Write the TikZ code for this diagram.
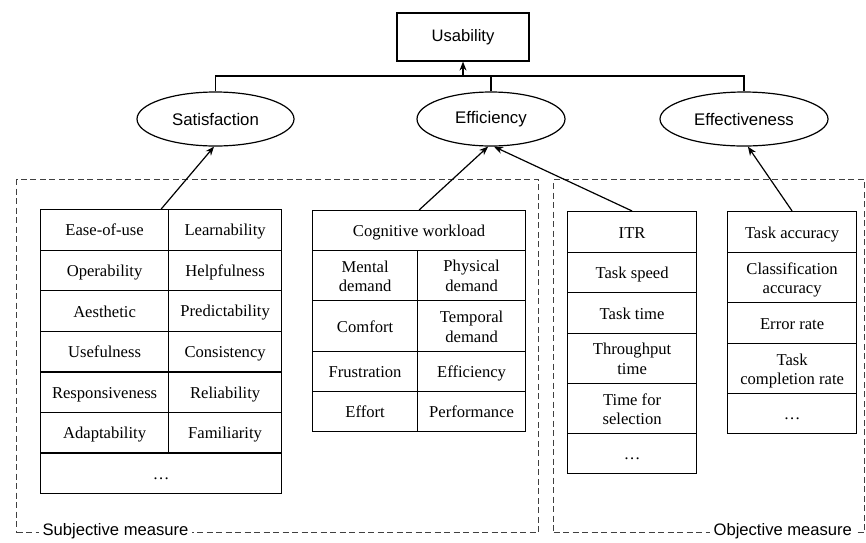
\documentclass[tikz,border=0pt]{standalone}
\usepackage{fontspec}
\setmainfont{Liberation Serif}
\newfontfamily\arialf{Liberation Sans}
\usetikzlibrary{shapes.geometric,arrows.meta,calc}
\newcommand{\cl}[1]{\rule[-3.5pt]{0pt}{19pt}#1}
\begin{document}
\begin{tikzpicture}[x=1pt,y=-1pt,
  line width=1.2pt,
  cell/.style={draw, rectangle, anchor=north west, inner sep=0pt, align=center,
               font=\fontsize{16.6}{19}\selectfont},
  oval/.style={draw, ellipse, inner sep=0pt, minimum height=54,
               font=\arialf\fontsize{16.8}{19}\selectfont},
  topbox/.style={draw, rectangle, inner sep=0pt, minimum width=132, minimum height=48,
               font=\arialf\fontsize{16.6}{19}\selectfont},
  dashbox/.style={draw=black!75, line width=1.3pt, dash pattern=on 6pt off 3.5pt,
               rectangle, anchor=north west, inner sep=0pt},
  lab/.style={fill=white, inner sep=4pt, anchor=west,
               font=\arialf\fontsize{16.6}{19}\selectfont},
  arr/.style={-{Stealth[length=9pt,width=7pt]}},
]
\useasboundingbox (0,0) rectangle (866,542);

% dashed groups
\node[dashbox, minimum width=522, minimum height=353] (subj) at (16,179) {};
\node[dashbox, minimum width=311, minimum height=353] (obj) at (553,179) {};
\node[lab] (subjl) at (38,531) {Subjective measure};
\node[lab] (objl) at (709,531) {Objective measure};

% top level
\node[topbox] (use) at (463,37) {Usability};
\node[oval, minimum width=157] (sat) at (215.5,119) {Satisfaction};
\node[oval, minimum width=148] (eff) at (491,119) {Efficiency};
\node[oval, minimum width=168] (effv) at (744,119) {Effectiveness};

\coordinate (hl) at (215.5,76);
\coordinate (usj) at (463,76);
\draw (sat.north) -- (sat.north |- hl) -- (effv.north |- hl) -- (effv.north);
\draw (eff.north) -- (eff.north |- hl);
\draw[arr] (usj) -- (use.south);

% Satisfaction table
\begin{scope}[every node/.append style={minimum height=40.6}]
\node[cell, minimum width=128] (s1a) at (40,209)   {\cl{Ease-of-use}};
\node[cell, minimum width=113] (s1b) at (168,209)  {\cl{Learnability}};
\node[cell, minimum width=128] (s2a) at (40,249.6) {\cl{Operability}};
\node[cell, minimum width=113] (s2b) at (168,249.6){\cl{Helpfulness}};
\node[cell, minimum width=128] (s3a) at (40,290.1) {\cl{Aesthetic}};
\node[cell, minimum width=113] (s3b) at (168,290.1){\cl{Predictability}};
\node[cell, minimum width=128] (s4a) at (40,330.7) {\cl{Usefulness}};
\node[cell, minimum width=113] (s4b) at (168,330.7){\cl{Consistency}};
\node[cell, minimum width=128] (s5a) at (40,371.3) {\cl{Responsiveness}};
\node[cell, minimum width=113] (s5b) at (168,371.3){\cl{Reliability}};
\node[cell, minimum width=128] (s6a) at (40,411.9) {\cl{Adaptability}};
\node[cell, minimum width=113] (s6b) at (168,411.9){\cl{Familiarity}};
\node[cell, minimum width=241] (s7)  at (40,452.4) {\cl{\ldots}};
\end{scope}

% Cognitive workload table
\node[cell, minimum width=213, minimum height=40] (c0) at (312,210) {\cl{Cognitive workload}};
\node[cell, minimum width=105, minimum height=50] (c1a) at (312,250) {\cl{Mental}\\\cl{demand}};
\node[cell, minimum width=108, minimum height=50] (c1b) at (417,250) {\cl{Physical}\\\cl{demand}};
\node[cell, minimum width=105, minimum height=51] (c2a) at (312,300) {\cl{Comfort}};
\node[cell, minimum width=108, minimum height=51] (c2b) at (417,300) {\cl{Temporal}\\\cl{demand}};
\node[cell, minimum width=105, minimum height=40] (c3a) at (312,351) {\cl{Frustration}};
\node[cell, minimum width=108, minimum height=40] (c3b) at (417,351) {\cl{Efficiency}};
\node[cell, minimum width=105, minimum height=40] (c4a) at (312,391) {\cl{Effort}};
\node[cell, minimum width=108, minimum height=40] (c4b) at (417,391) {\cl{Performance}};

% Objective: time-related
\node[cell, minimum width=129, minimum height=41] (i1) at (567,211) {\cl{ITR}};
\node[cell, minimum width=129, minimum height=40] (i2) at (567,252) {\cl{Task speed}};
\node[cell, minimum width=129, minimum height=41] (i3) at (567,292) {\cl{Task time}};
\node[cell, minimum width=129, minimum height=50] (i4) at (567,333) {\cl{Throughput}\\\cl{time}};
\node[cell, minimum width=129, minimum height=50] (i5) at (567,383) {\cl{Time for}\\\cl{selection}};
\node[cell, minimum width=129, minimum height=40] (i6) at (567,433) {\cl{\ldots}};

% Objective: accuracy-related
\node[cell, minimum width=129, minimum height=41] (t1) at (727,211) {\cl{Task accuracy}};
\node[cell, minimum width=129, minimum height=50] (t2) at (727,252) {\cl{Classification}\\\cl{accuracy}};
\node[cell, minimum width=129, minimum height=41] (t3) at (727,302) {\cl{Error rate}};
\node[cell, minimum width=129, minimum height=50] (t4) at (727,343) {\cl{Task}\\\cl{completion rate}};
\node[cell, minimum width=129, minimum height=40] (t5) at (727,393) {\cl{\ldots}};

% connectors
\draw[arr] ($(s1a.north east)+(-8,0)$) -- (sat.-93);
\draw[arr] (c0.north) -- (eff.-96);
\draw[arr] (i1.north) -- (eff.-84);
\draw[arr] (t1.north) -- (effv.-82);
\end{tikzpicture}
\end{document}
